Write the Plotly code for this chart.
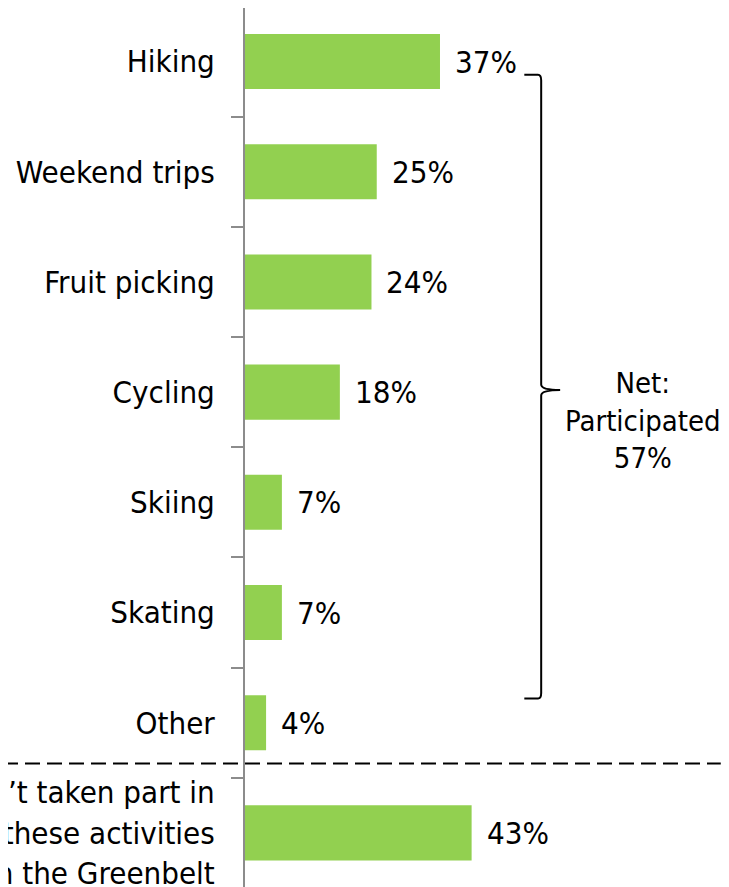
import plotly.graph_objects as go

categories = ["Hiking", "Weekend trips", "Fruit picking", "Cycling", "Skiing", "Skating", "Other",
              "Haven\u2019t taken part in<br>any of these activities<br>in the Greenbelt"]
values = [37, 25, 24, 18, 7, 7, 4, 43]
value_labels = [f"{v}%" for v in values]
net_label = "Net:<br>Participated<br>57%"

FONT = "DejaVu Sans Condensed, DejaVu Sans, sans-serif"
FS = 31
GREEN = "#92D050"
idx = list(range(len(categories)))

fig = go.Figure()
fig.add_trace(go.Bar(
    x=values, y=idx, orientation="h",
    marker=dict(color=GREEN, line=dict(width=0)),
    hoverinfo="skip", showlegend=False,
))

for i, (v, t) in enumerate(zip(values, value_labels)):
    fig.add_annotation(x=v, y=i, xref="x", yref="y", text=t, showarrow=False,
                       xanchor="left", yanchor="middle", xshift=13,
                       font=dict(family=FONT, size=FS, color="#000"))

# Net annotation
fig.add_annotation(x=75.6, y=3.26, xref="x", yref="y", text=net_label, showarrow=False,
                   xanchor="center", yanchor="middle", align="center",
                   font=dict(family=FONT, size=29, color="#000"))

# brace
bx, bl, bt, bm, bb, btip = 56.2, 53.0, 0.12, 2.98, 5.78, 59.8
path = (f"M {bl},{bt} L {bx-0.6},{bt} Q {bx},{bt} {bx},{bt+0.05} "
        f"L {bx},{bm-0.05} Q {bx},{bm} {btip},{bm} Q {bx},{bm} {bx},{bm+0.05} "
        f"L {bx},{bb-0.05} Q {bx},{bb} {bx-0.6},{bb} L {bl},{bb}")
fig.add_shape(type="path", path=path, xref="x", yref="y",
              line=dict(color="#000", width=2))

# dashed separator
fig.add_shape(type="line", xref="paper", yref="y", x0=-0.5, x1=0.983, y0=6.37, y1=6.37,
              line=dict(color="#000", width=2, dash="15px,7px"))

fig.update_layout(
    width=721, height=879,
    margin=dict(l=237, r=0, t=0, b=0, autoexpand=False),
    plot_bgcolor="white", paper_bgcolor="white",
    bargap=0.5,
    font=dict(family=FONT, size=FS, color="#000"),
    xaxis=dict(range=[0, 91.84], visible=False, fixedrange=True),
    yaxis=dict(
        range=[7.491, -0.486], tickmode="array", tickvals=idx, ticktext=categories,
        ticks="", showline=True, linecolor="#8c8c8c", linewidth=2, showgrid=False,
        zeroline=False, ticklabelstandoff=22, automargin=False,
        ticklabeloverflow="allow",
        tickfont=dict(family=FONT, size=FS, color="#000"),
        minor=dict(tickmode="linear", tick0=0.5, dtick=1, ticks="outside",
                   ticklen=12, tickwidth=2, tickcolor="#8c8c8c", showgrid=False),
    ),
)
fig.write_html("out.html")
